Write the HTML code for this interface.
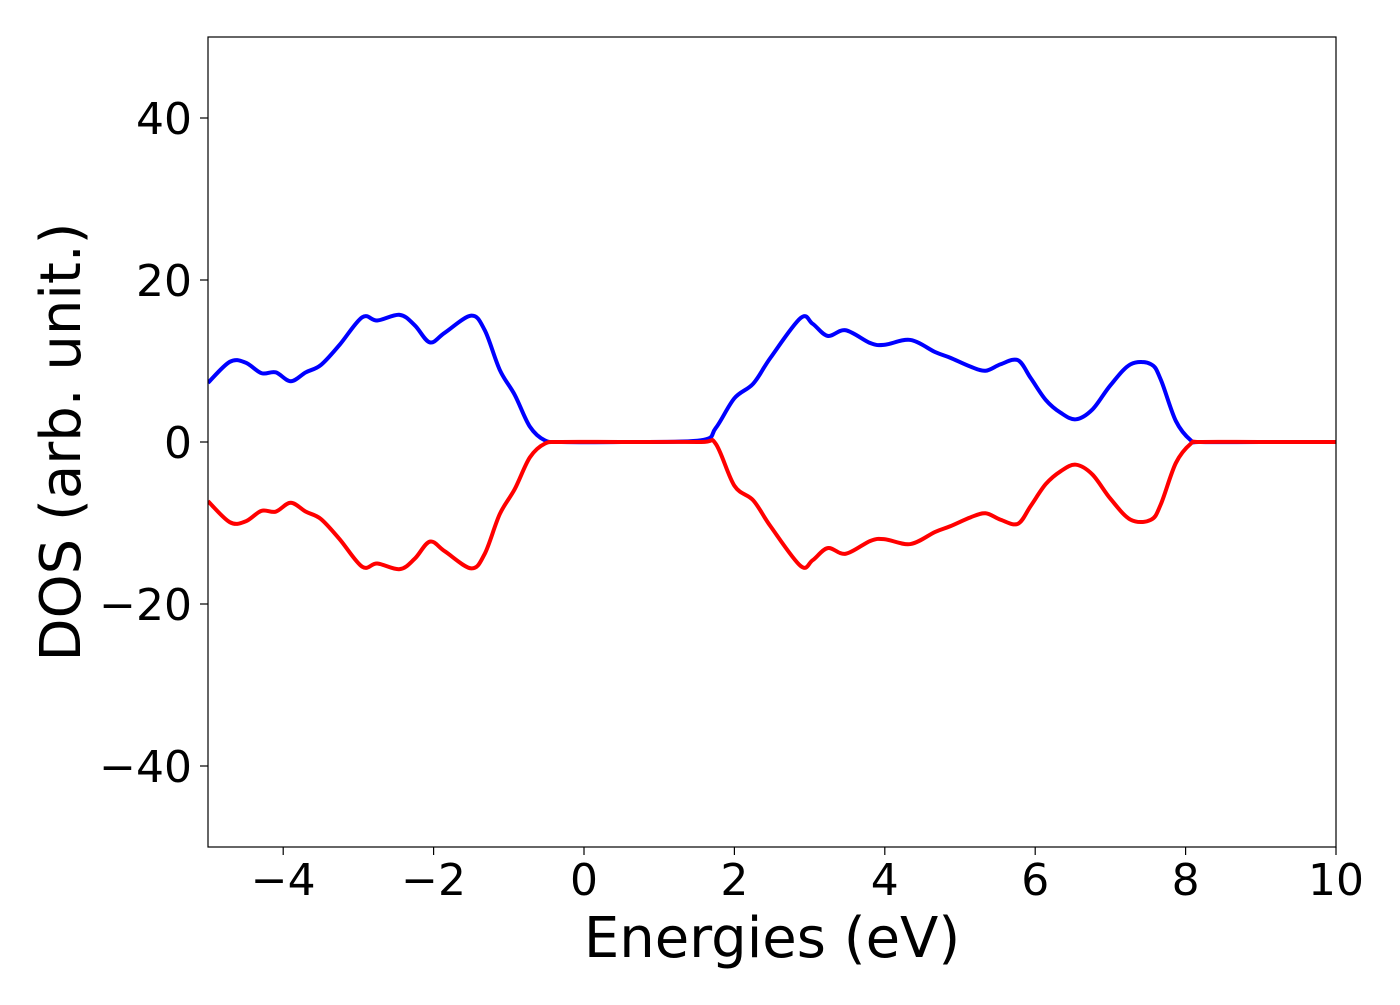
<!DOCTYPE html>
<html><head><meta charset="utf-8"><style>
body{margin:0;background:#fff;}
svg text{font-family:"DejaVu Sans","Liberation Sans",sans-serif;fill:#000;}
</style></head><body>
<svg id="chart" width="1400" height="1000" xmlns="http://www.w3.org/2000/svg">
<rect width="1400" height="1000" fill="#fff"/>
<g id="plot"></g>
<rect x="208" y="37" width="1128" height="810" fill="none" stroke="#000" stroke-width="1.2"/>
<g id="axes"></g>
<text x="772" y="957" font-size="56" text-anchor="middle">Energies (eV)</text>
<text transform="translate(80,442) rotate(-90)" font-size="56" text-anchor="middle">DOS (arb. unit.)</text>
</svg>
<script>
const energies = [-5,-4.71,-4.5,-4.29,-4.1,-3.9,-3.7,-3.5,-3.25,-2.95,-2.75,-2.45,-2.25,-2.05,-1.85,-1.5,-1.32,-1.12,-0.92,-0.72,-0.52,-0.3,0.5,1.55,1.75,2.0,2.25,2.48,2.88,3.04,3.24,3.48,3.81,4.0,4.34,4.67,4.87,5.14,5.34,5.54,5.77,5.94,6.14,6.34,6.54,6.76,7.0,7.27,7.54,7.67,7.87,8.07,8.2,9,10];
const dosUp = [7.3,9.9,9.8,8.5,8.6,7.5,8.6,9.5,12,15.4,15,15.7,14.4,12.3,13.5,15.6,13.8,8.9,5.8,1.9,0.2,0,0,0.2,1.7,5.4,7.2,10.4,15.3,14.6,13.1,13.8,12.2,12,12.6,11.1,10.4,9.3,8.8,9.6,10.1,7.9,5.2,3.6,2.8,4,7,9.6,9.6,7.7,2.6,0.2,0,0,0];
const dosDown = [-7.3,-9.9,-9.8,-8.5,-8.6,-7.5,-8.6,-9.5,-12,-15.4,-15,-15.7,-14.4,-12.3,-13.5,-15.6,-13.8,-8.9,-5.8,-1.9,-0.2,0,0,0,-0.2,-5.4,-7.2,-10.4,-15.3,-14.6,-13.1,-13.8,-12.2,-12,-12.6,-11.1,-10.4,-9.3,-8.8,-9.6,-10.1,-7.9,-5.2,-3.6,-2.8,-4,-7,-9.6,-9.6,-7.7,-2.6,-0.2,0,0,0];
const xTicks = [-4,-2,0,2,4,6,8,10];
const yTicks = [-40,-20,0,20,40];
const xTickLabels = ["\u22124","\u22122","0","2","4","6","8","10"];
const yTickLabels = ["\u221240","\u221220","0","20","40"];

const X0=208,X1=1336,Y0=37,Y1=847;
const xMin=-5,xMax=10,yMin=-50,yMax=50;
function sx(v){return X0+(v-xMin)/(xMax-xMin)*(X1-X0);}
function sy(v){return Y1-(v-yMin)/(yMax-yMin)*(Y1-Y0);}
const NS="http://www.w3.org/2000/svg";
function smoothPath(xs,ys){
  const p=xs.map((x,i)=>[sx(x),sy(ys[i])]);
  let d="M"+p[0][0].toFixed(2)+","+p[0][1].toFixed(2);
  for(let i=0;i<p.length-1;i++){
    const p0=p[Math.max(0,i-1)],p1=p[i],p2=p[i+1],p3=p[Math.min(p.length-1,i+2)];
    const c1=[p1[0]+(p2[0]-p0[0])/6,p1[1]+(p2[1]-p0[1])/6];
    const c2=[p2[0]-(p3[0]-p1[0])/6,p2[1]-(p3[1]-p1[1])/6];
    d+=" C"+c1.map(v=>v.toFixed(2)).join(",")+" "+c2.map(v=>v.toFixed(2)).join(",")+" "+p2[0].toFixed(2)+","+p2[1].toFixed(2);
  }
  return d;
}
const plot=document.getElementById('plot');
const clip=document.createElementNS(NS,'clipPath');clip.setAttribute('id','clp');
const cr=document.createElementNS(NS,'rect');cr.setAttribute('x',X0);cr.setAttribute('y',Y0);cr.setAttribute('width',X1-X0);cr.setAttribute('height',Y1-Y0);
clip.appendChild(cr);plot.appendChild(clip);
[[dosUp,'#0000ff','dos-up-line'],[dosDown,'#ff0000','dos-down-line']].forEach(([ys,c,n])=>{
  const path=document.createElementNS(NS,'path');
  path.setAttribute('d',smoothPath(energies,ys));
  path.setAttribute('fill','none');path.setAttribute('stroke',c);path.setAttribute('stroke-width','4');
  path.setAttribute('clip-path','url(#clp)');
  
  
  plot.appendChild(path);
});
const axes=document.getElementById('axes');
xTicks.forEach((t,i)=>{
  const l=document.createElementNS(NS,'line');
  l.setAttribute('x1',sx(t));l.setAttribute('x2',sx(t));l.setAttribute('y1',Y1);l.setAttribute('y2',Y1+8);
  l.setAttribute('stroke','#000');l.setAttribute('stroke-width','1.2');
  
  
  axes.appendChild(l);
  const tx=document.createElementNS(NS,'text');
  tx.setAttribute('x',sx(t));tx.setAttribute('y',Y1+48);tx.setAttribute('font-size','44');tx.setAttribute('text-anchor','middle');
  tx.textContent=xTickLabels[i];
  
  
  axes.appendChild(tx);
});
yTicks.forEach((t,i)=>{
  const l=document.createElementNS(NS,'line');
  l.setAttribute('x1',X0-8);l.setAttribute('x2',X0);l.setAttribute('y1',sy(t));l.setAttribute('y2',sy(t));
  l.setAttribute('stroke','#000');l.setAttribute('stroke-width','1.2');
  
  
  axes.appendChild(l);
  const tx=document.createElementNS(NS,'text');
  tx.setAttribute('x',X0-16);tx.setAttribute('y',sy(t)+16);tx.setAttribute('font-size','44');tx.setAttribute('text-anchor','end');
  tx.textContent=yTickLabels[i];
  
  
  axes.appendChild(tx);
});
</script>
</body></html>
